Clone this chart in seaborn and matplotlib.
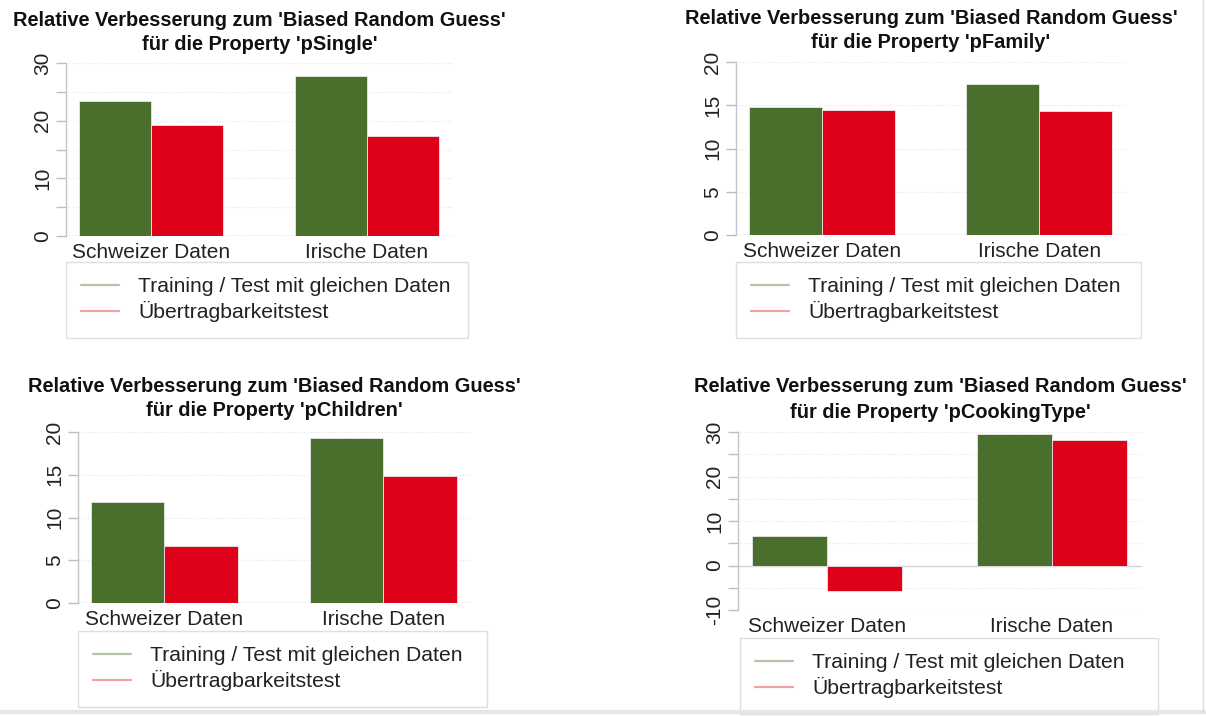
import numpy as np
import pandas as pd
import matplotlib
matplotlib.use("Agg")
import matplotlib.pyplot as plt
import seaborn as sns
from matplotlib.lines import Line2D

# data
datasets = ["Schweizer Daten", "Irische Daten"]
series = ["Training / Test mit gleichen Daten", "Übertragbarkeitstest"]
properties = ["pSingle", "pFamily", "pChildren", "pCookingType"]

same_data = {
    "pSingle": [23.4, 27.7],
    "pFamily": [14.8, 17.5],
    "pChildren": [11.8, 19.3],
    "pCookingType": [6.6, 29.6],
}
transfer = {
    "pSingle": [19.2, 17.3],
    "pFamily": [14.5, 14.3],
    "pChildren": [6.7, 14.9],
    "pCookingType": [-5.7, 28.3],
}

y_limits = {
    "pSingle": (0, 30),
    "pFamily": (0, 20),
    "pChildren": (0, 20),
    "pCookingType": (-10, 30),
}
label_step = {"pSingle": 10, "pFamily": 5, "pChildren": 5, "pCookingType": 10}

GREEN = "#4a6e2c"
RED = "#df0019"

W, H = 1206, 716

# axes box in pixels: left, right, top, bottom ; legend left, right, top ; title line y's
layout = {
    "pSingle": (66, 453, 63, 236, 66, 468, 262, 21, 45),
    "pFamily": (736, 1126, 62, 235, 736, 1141, 262, 18, 42),
    "pChildren": (78, 471, 432, 603, 78, 487, 631, 386, 411),
    "pCookingType": (738, 1142, 432, 610, 740, 1158, 638, 387, 412),
}

sns.set_theme(style="white")
plt.rcParams["font.family"] = ["Liberation Sans", "DejaVu Sans"]

fig = plt.figure(figsize=(W / 100, H / 100), dpi=100)

for prop in properties:
    l, r, t, b, ll, lr, lt, ty1, ty2 = layout[prop]
    ax = fig.add_axes([l / W, 1 - b / H, (r - l) / W, (b - t) / H])

    df = pd.DataFrame({
        "dataset": datasets * 2,
        "serie": [series[0]] * 2 + [series[1]] * 2,
        "value": same_data[prop] + transfer[prop],
    })

    lo, hi = y_limits[prop]
    for yv in np.arange(lo, hi + 0.1, 5):
        ax.axhline(yv, color="#e6e6e6", lw=0.9, ls=(0, (1, 1.5)), zorder=0)
    ax.axhline(0, color="#d4d4d4", lw=1.0, zorder=0.5)

    sns.barplot(data=df, x="dataset", y="value", hue="serie", order=datasets,
                hue_order=series, palette=[GREEN, RED], width=0.67,
                saturation=1, edgecolor="#e8e8e8", linewidth=0.6, ax=ax,
                legend=False, zorder=2)

    ax.set_xlim(-0.395, 1.40)
    ax.set_ylim(lo, hi)
    ticks = np.arange(lo, hi + 0.1, 5)
    ax.set_yticks(ticks)
    ax.set_yticklabels([f"{int(v)}" if v % label_step[prop] == 0 else "" for v in ticks])
    ax.tick_params(axis="y", labelrotation=90, length=7, width=1,
                   color="#bdbdbd", labelsize=15, pad=3, left=True, labelcolor="#222222")
    for lab in ax.get_yticklabels():
        lab.set_va("center")
    ax.tick_params(axis="x", length=0, labelsize=15, pad=5, labelcolor="#222222")
    ax.set_xlabel("")
    ax.set_ylabel("")
    for s in ["top", "right", "bottom"]:
        ax.spines[s].set_visible(False)
    ax.spines["left"].set_color("#c4c4c4")
    ax.spines["left"].set_linewidth(1.0)

    cx = (l + r) / 2 / W
    fig.text(cx, 1 - ty1 / H, "Relative Verbesserung zum 'Biased Random Guess'",
             ha="center", va="center", fontsize=14.4, fontweight="bold", color="#111111")
    fig.text(cx, 1 - ty2 / H, f"für die Property '{prop}'",
             ha="center", va="center", fontsize=14.4, fontweight="bold", color="#111111")

    handles = [Line2D([], [], color="#b3c5a6", lw=1.6),
               Line2D([], [], color="#f3a0a6", lw=1.6)]
    leg = ax.legend(handles, series, loc="upper left",
                    bbox_to_anchor=(ll / W, 1 - lt / H - 0.01, (lr - ll) / W, 0.01),
                    bbox_transform=fig.transFigure, mode="expand",
                    borderaxespad=0, frameon=True, fancybox=False,
                    fontsize=15.2, handlelength=1.8, handletextpad=0.9,
                    borderpad=0.72, labelspacing=0.24)
    leg.get_frame().set_edgecolor("#d6d6d6")
    leg.get_frame().set_linewidth(1.0)
    for txt in leg.get_texts():
        txt.set_color("#222222")

# thin frame of the screenshot
fig.add_artist(Line2D([0, 1], [4 / H, 4 / H], color="#e2e8e8", lw=3,
                      transform=fig.transFigure))
fig.add_artist(Line2D([1203 / W, 1203 / W], [4 / H, 1], color="#dddddd", lw=1,
                      transform=fig.transFigure))

fig.savefig("out.png", dpi=100, facecolor="white")
